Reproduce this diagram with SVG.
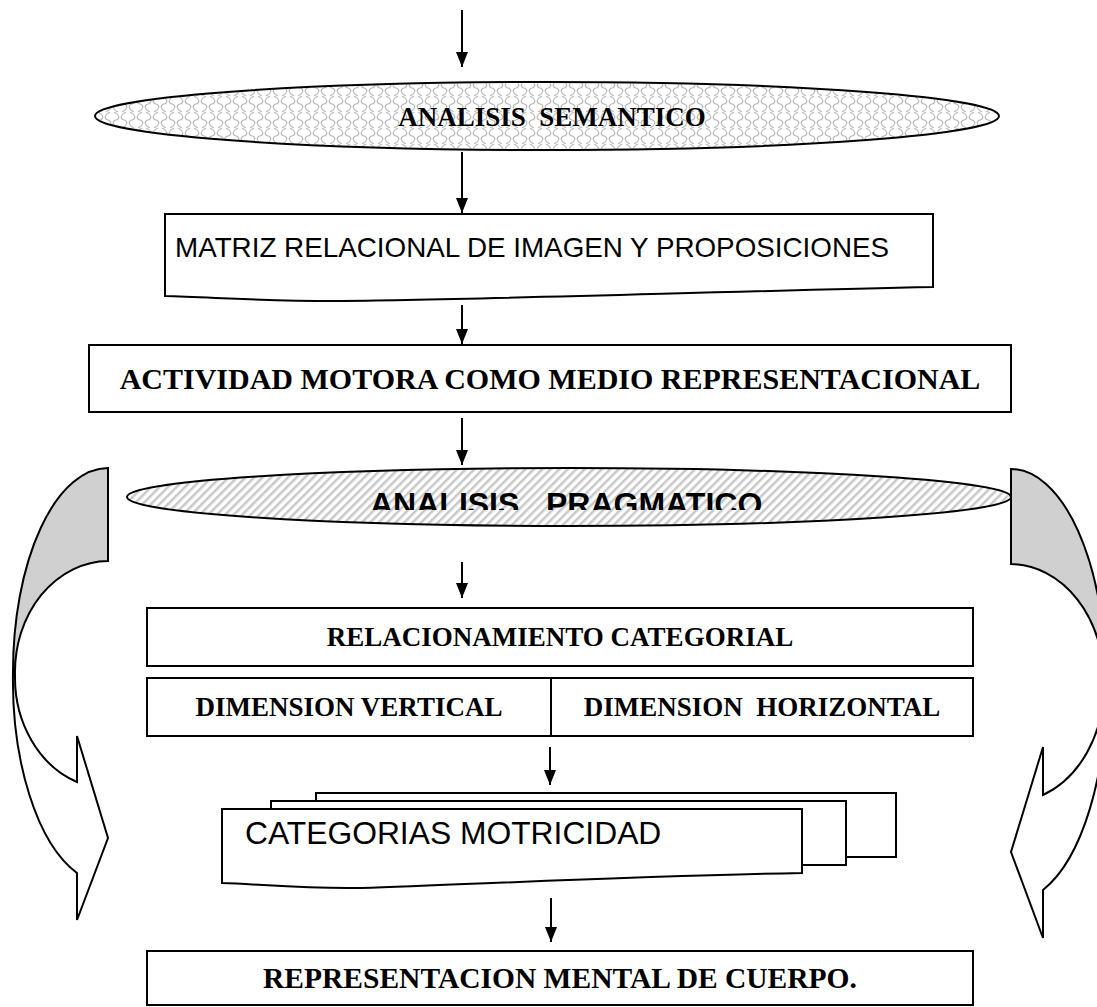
<svg xmlns="http://www.w3.org/2000/svg" width="1097" height="1007" viewBox="0 0 1097 1007">
<style>
.box{fill:#fff;stroke:#000;stroke-width:2}
.ln{stroke:#000;stroke-width:2;fill:none}
.tb{font-family:"Liberation Serif",serif;font-weight:bold;font-size:27px;fill:#000}
.ts{font-family:"Liberation Sans",Arial,sans-serif;font-size:27.8px;fill:#000}
.gray{fill:#d0d0d0;stroke:#000;stroke-width:2}
.white{fill:#fff;stroke:#000;stroke-width:2}
</style>
<defs>
<marker id="ah" markerWidth="15" markerHeight="12" refX="15" refY="6" orient="auto" markerUnits="userSpaceOnUse" viewBox="0 0 15 12">
<path d="M0,0 L15,6 L0,12 Z" fill="#000"/>
</marker>
<pattern id="shingle" width="16" height="16" patternUnits="userSpaceOnUse">
<rect width="16" height="16" fill="#fff"/>
<path d="M2,0 C8,3 8,7 4,8 C0,9 0,13 6,16 M14,0 C8,3 8,7 12,8 C16,9 16,13 10,16" stroke="#b8b8b8" stroke-width="1.2" fill="none"/>
</pattern>
<pattern id="diag" width="6" height="6" patternUnits="userSpaceOnUse" patternTransform="rotate(45)">
<rect width="6" height="6" fill="#fff"/>
<rect x="0" y="0" width="2.5" height="6" fill="#c8c8c8"/>
</pattern>
<clipPath id="clipP"><rect x="0" y="0" width="1097" height="510"/></clipPath>
</defs>

<g id="curved-arrow-left">
<path class="gray" d="M108,468 A95,204 0 0 0 13,672 L15,675 A94,111 0 0 1 108,561 Z"/>
<path class="white" d="M13,672 A95,204 0 0 0 77,873 L77,920 L108,838 L77,736 L77,782 A94,111 0 0 1 15,675 Z"/>
</g>
<g id="curved-arrow-right">
<path class="gray" d="M1011,469 A95,212 0 0 1 1106,681 L1104,684 A94,117 0 0 0 1011,564 Z"/>
<path class="white" d="M1106,681 A95,212 0 0 1 1043,890 L1043,938 L1011,852 L1043,747 L1043,795 A94,117 0 0 0 1104,684 Z"/>
</g>

<g id="connectors">
<line class="ln" x1="462" y1="10" x2="462" y2="67" marker-end="url(#ah)"/>
<line class="ln" x1="462" y1="152" x2="462" y2="213" marker-end="url(#ah)"/>
<line class="ln" x1="462" y1="305" x2="462" y2="344" marker-end="url(#ah)"/>
<line class="ln" x1="462" y1="418" x2="462" y2="465" marker-end="url(#ah)"/>
<line class="ln" x1="462" y1="562" x2="462" y2="598" marker-end="url(#ah)"/>
<line class="ln" x1="550" y1="747" x2="550" y2="785" marker-end="url(#ah)"/>
<line class="ln" x1="551" y1="898" x2="551" y2="942" marker-end="url(#ah)"/>
</g>

<g id="analisis-semantico">
<ellipse cx="547" cy="116" rx="452" ry="34" fill="url(#shingle)" stroke="#000" stroke-width="2"/>
<text class="tb" x="552" y="126" text-anchor="middle" xml:space="preserve">ANALISIS  SEMANTICO</text>
</g>

<g id="matriz">
<path class="box" d="M165,214 H933 V287 C700,292 480,300 334,301 C260,301 210,297 165,296 Z"/>
<text class="ts" x="175" y="257">MATRIZ RELACIONAL DE IMAGEN Y PROPOSICIONES</text>
</g>

<g id="actividad">
<rect class="box" x="89" y="345" width="922" height="67"/>
<text class="tb" x="550" y="389" text-anchor="middle" style="font-size:30px">ACTIVIDAD MOTORA COMO MEDIO REPRESENTACIONAL</text>
</g>

<g id="analisis-pragmatico">
<ellipse cx="569" cy="497" rx="442" ry="29" fill="url(#diag)" stroke="#000" stroke-width="2"/>
<text clip-path="url(#clipP)" x="370" y="515" xml:space="preserve" style="font-family:'Liberation Sans',Arial,sans-serif;font-weight:bold;font-size:32px">ANALISIS   PRAGMATICO.</text>
</g>

<g id="relacionamiento">
<rect class="box" x="147" y="608" width="826" height="58"/>
<text class="tb" x="560" y="646" text-anchor="middle">RELACIONAMIENTO CATEGORIAL</text>
</g>

<g id="dimensiones">
<rect class="box" x="147" y="678" width="826" height="58"/>
<line class="ln" x1="551" y1="678" x2="551" y2="736"/>
<text class="tb" x="349" y="716" text-anchor="middle">DIMENSION VERTICAL</text>
<text class="tb" x="762" y="716" text-anchor="middle" xml:space="preserve">DIMENSION  HORIZONTAL</text>
</g>

<g id="categorias">
<rect class="box" x="316" y="793" width="580" height="64"/>
<rect class="box" x="271" y="801" width="575" height="64"/>
<path class="box" d="M222,809 H802 V873 C640,876 480,884 361,888 C300,889 260,884 222,883 Z"/>
<text class="ts" x="245" y="844" style="font-size:31.8px">CATEGORIAS MOTRICIDAD</text>
</g>

<g id="representacion">
<rect class="box" x="147" y="951" width="826" height="54"/>
<text class="tb" x="560" y="988" text-anchor="middle" style="font-size:29.5px">REPRESENTACION MENTAL DE CUERPO.</text>
</g>
</svg>
